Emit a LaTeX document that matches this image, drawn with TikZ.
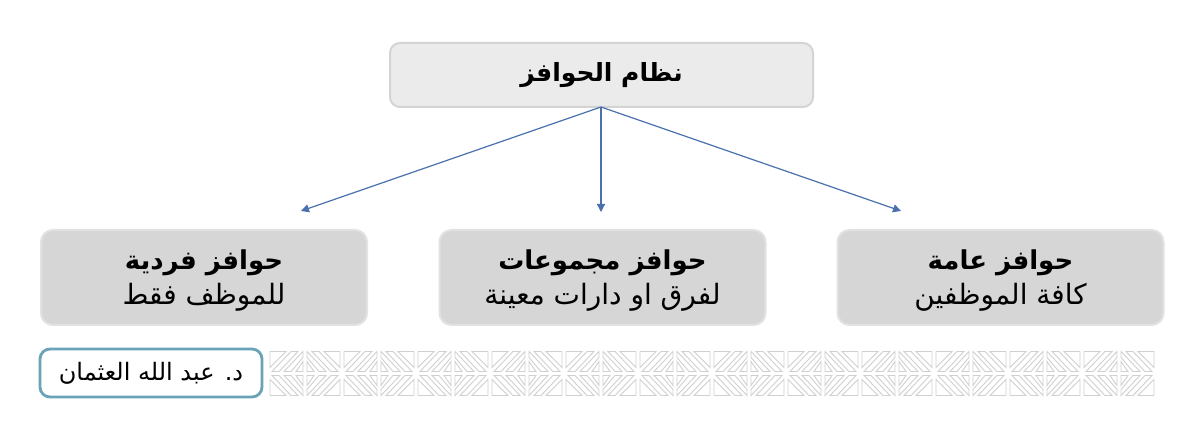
\documentclass[tikz,border=0pt]{standalone}
\usepackage{fontspec}
\usetikzlibrary{arrows.meta}
\TeXXeTstate=1
\newfontfamily\arabicfont[Script=Arabic]{DejaVu Sans}
\definecolor{topfill}{HTML}{EBEBEB}
\definecolor{topline}{HTML}{D4D4D4}
\definecolor{boxfill}{HTML}{D6D6D6}
\definecolor{boxline}{HTML}{E2E2E2}
\definecolor{arrowblue}{HTML}{4A70AE}
\definecolor{authline}{HTML}{6AA3B8}
\definecolor{patline}{HTML}{D0D0D0}
\tikzset{
  topbox/.style={draw=topline, line width=1pt, fill=topfill, rounded corners=5pt,
    minimum width=211.5pt, minimum height=32pt, inner sep=0pt},
  catbox/.style={draw=boxline, line width=1pt, fill=boxfill, rounded corners=6pt,
    minimum width=163pt, minimum height=47.5pt, inner sep=0pt, align=center},
  authbox/.style={draw=authline, line width=1.4pt, fill=white, rounded corners=5pt,
    minimum width=111pt, minimum height=24pt, inner sep=0pt},
  link/.style={draw=arrowblue, line width=0.6pt, -{Triangle[width=4pt,length=4pt]}},
  patstroke/.style={draw=patline, line width=0.45pt, line join=miter},
}
\newcommand{\titletext}[2][13]{{\arabicfont\bfseries\fontsize{#1}{16}\selectfont\beginR #2\endR}}
\newcommand{\subtext}[2][14]{{\arabicfont\fontsize{#1}{17}\selectfont\beginR #2\endR}}
\newcommand{\patquad}{%
  \path[patstroke] (-2,-2) -- (-9,-2) -- (-2,-12) -- cycle;
  \path[patstroke] (-14,-2) -- (-2,-16) -- (-2,-22) -- (-21,-2) -- cycle;
  \path[patstroke] (-26,-2) -- (-7,-22) -- (-14,-22) -- (-33,-2) -- cycle;
  \path[patstroke] (-19,-22) -- (-35,-22) -- (-35,-6) -- cycle;
}
\begin{document}
\begin{tikzpicture}[x=0.5pt,y=-0.5pt]
\useasboundingbox (0,0) rectangle (1200,426);
\fill[white] (0,0) rectangle (1200,426);

\node[topbox] (root) at (601.5,75) {\titletext[12.5]{نظام الحوافز}};

\node[catbox] (indiv) at (204,277.5) {\rule{0pt}{13pt}\titletext{حوافز فردية}\\[2.5pt]\subtext{للموظف فقط}};
\node[catbox] (group) at (602.5,277.5) {\rule{0pt}{13pt}\titletext{حوافز مجموعات}\\[2.5pt]\subtext{لفرق او دارات معينة}};
\node[catbox] (gen) at (1000.5,277.5) {\rule{0pt}{13pt}\titletext{حوافز عامة}\\[2.5pt]\subtext{كافة الموظفين}};

\coordinate (src) at (601,107);
\coordinate (endL) at (301,211);
\coordinate (endM) at (601,212);
\coordinate (endR) at (901,211);
\draw[link] (src) -- (endL);
\draw[link] (src) -- (endM);
\draw[link] (src) -- (endR);

\node[authbox] (author) at (151,373) {\subtext[12]{د. عبد الله العثمان}};

\foreach \i in {0,...,11} {
  \begin{scope}[shift={(305+74*\i,373.5)}]
    \patquad
    \begin{scope}[xscale=-1]\patquad\end{scope}
    \begin{scope}[yscale=-1]\patquad\end{scope}
    \begin{scope}[xscale=-1,yscale=-1]\patquad\end{scope}
  \end{scope}
}
\end{tikzpicture}
\end{document}
